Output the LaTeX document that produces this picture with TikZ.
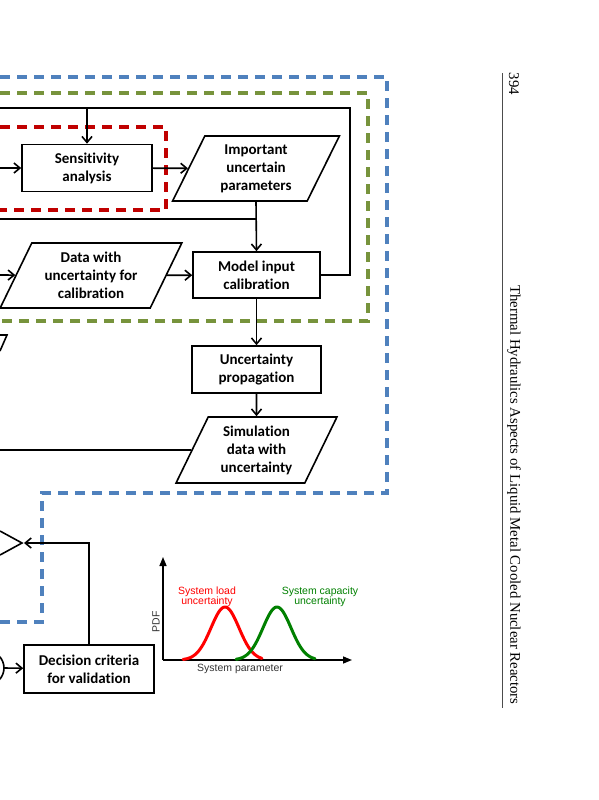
\documentclass[tikz,border=0pt]{standalone}
\usepackage{fontspec}
\setmainfont{Liberation Serif}
\newfontfamily\calibri[Ligatures=NoCommon]{Carlito}
\newfontfamily\arial{Liberation Sans}
\usetikzlibrary{arrows.meta,shapes.geometric}
\definecolor{frameblue}{RGB}{79,129,189}
\definecolor{framegreen}{RGB}{119,147,60}
\definecolor{framered}{RGB}{192,0,0}
\definecolor{curvegreen}{RGB}{0,128,0}

\begin{document}
\begin{tikzpicture}[x=1pt, y=-1pt, >={Straight Barb[length=6pt,width=10pt]},
	every node/.style={font=\calibri\bfseries\fontsize{15}{18}\selectfont, align=center},
	procbox/.style={draw, line width=1.6pt, inner sep=0pt},
	databox/.style={trapezium, trapezium stretches=true, draw, line width=1.6pt, inner sep=0pt},
	flow/.style={line width=1.6pt},
	frame/.style={line width=3.5pt, dash pattern=on 10pt off 7pt}]
	\useasboundingbox (0,0) rectangle (599,800);
	% dashed frames
	\draw[frame, frameblue] (0,77) -- (387,77) -- (387,493) -- (42,493) -- (42,622) -- (0,622);
	\draw[frame, framegreen] (0,93) -- (368,93) -- (368,321) -- (0,321);
	\draw[frame, framered] (0,127) -- (166,127) -- (166,210) -- (0,210);
	% blocks
	\node[procbox, minimum width=130, minimum height=47] (sens) at (87,168) {Sensitivity\\analysis};
	\node[databox, trapezium left angle=65, trapezium right angle=115, minimum width=167, minimum height=65] (imp) at (256,168.5) {Important\\uncertain\\parameters};
	\node[procbox, minimum width=127, minimum height=46] (calib) at (256.5,275) {Model input\\calibration};
	\node[databox, trapezium left angle=62, trapezium right angle=118, minimum width=182, minimum height=65] (data) at (91,275.5) {Data with\\uncertainty for\\calibration};
	\node[procbox, minimum width=129, minimum height=47] (prop) at (256.5,369.5) {Uncertainty\\propagation};
	\node[databox, trapezium left angle=64, trapezium right angle=116, minimum width=161, minimum height=66] (sim) at (256.5,450) {Simulation\\data with\\uncertainty};
	\node[procbox, minimum width=130, minimum height=48] (crit) at (89,669) {Decision criteria\\for validation};
	% shapes cut by the page edge
	\draw[flow] (0,335) -- (7,335) -- (0,351);
	\coordinate (dec) at (22,543);
	\draw[flow] (0,531) -- (dec) -- (0,555);
	\draw[flow] (-13,668) circle (17pt);
	% connectors
	\coordinate (sensL) at (0,168);
	\coordinate (loopL) at (0,108);
	\coordinate (loopR) at (350,108);
	\coordinate (midL) at (0,219);
	\coordinate (dataL) at (0,275);
	\coordinate (simL) at (0,450);
	\coordinate (circ) at (4,668);
	\draw[flow, ->] (sensL) -- (sens);
	\draw[flow, ->] (sens) -- (imp);
	\draw[flow] (calib.east) -| (loopR) -- (loopL);
	\draw[flow, ->] (sens |- loopL) -- (sens);
	\draw[flow, ->] (imp.south) -- (calib.north);
	\draw[flow] (midL) -- (midL -| calib.north);
	\draw[flow, ->] (dataL) -- (data);
	\draw[flow, ->] (data) -- (calib);
	\draw[flow, ->] (calib) -- (prop);
	\draw[flow, ->] (prop) -- (sim);
	\draw[flow] (simL) -- (sim);
	\draw[flow, ->, shorten >=2pt] (crit.north) |- (dec);
	\draw[flow, ->] (circ) -- (crit);
	% PDF sketch
	\coordinate (orig) at (163,660);
	\coordinate (ytip) at (163,557);
	\coordinate (xtip) at (352,660);
	\draw[line width=1.5pt, -{Triangle[length=9pt,width=7pt]}] (orig) -- (ytip);
	\draw[line width=1.5pt, -{Triangle[length=9pt,width=7pt]}] (orig) -- (xtip);
	\draw[red, line width=3pt, domain=183:262, samples=60, line cap=round] plot (\x, {660-53*exp(-((\x-225)/14)^2/2)});
	\draw[curvegreen, line width=3pt, domain=236:315, samples=60, line cap=round] plot (\x, {660-53*exp(-((\x-277)/14)^2/2)});
	\node[font=\arial\fontsize{10.5}{10}\selectfont, text=red] (loadlbl) at (207,597) {System load\\uncertainty};
	\node[font=\arial\fontsize{10.5}{10}\selectfont, text=curvegreen] (caplbl) at (320,597) {System capacity\\uncertainty};
	\node[font=\arial\fontsize{10.5}{10}\selectfont, text=black!80, rotate=90] (pdflbl) at (156,622) {PDF};
	\node[font=\arial\fontsize{10.5}{10}\selectfont, text=black!80] (paramlbl) at (240,669) {System parameter};
	% running head
	\draw[line width=0.8pt, black!70] (502,73) -- (502,708);
	\node[font=\rmfamily\fontsize{14.8}{17}\selectfont, rotate=-90] (pageno) at (514,84) {394};
	\node[font=\rmfamily\fontsize{14.8}{17}\selectfont, rotate=-90] (runhead) at (514,495) {Thermal Hydraulics Aspects of Liquid Metal Cooled Nuclear Reactors};
\end{tikzpicture}
\end{document}
